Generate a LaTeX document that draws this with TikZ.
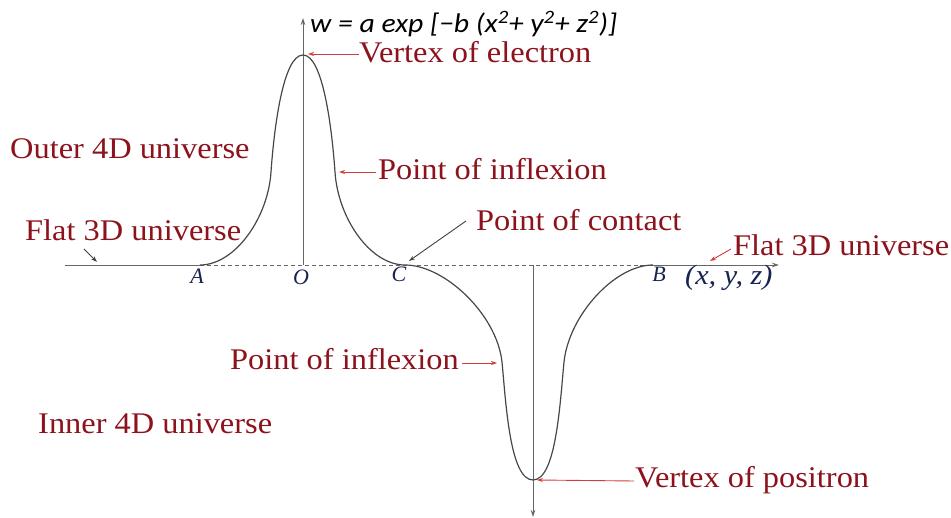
\documentclass[tikz,border=0pt]{standalone}
\usepackage{fontspec}
\setmainfont{Liberation Serif}
\newfontfamily\calib{Carlito}
\usetikzlibrary{arrows.meta}
\definecolor{lab}{RGB}{140,18,28}
\definecolor{arr}{RGB}{210,60,60}
\definecolor{pt}{RGB}{25,35,80}
\tikzset{
  lbl/.style={anchor=base west,inner sep=0pt,text=lab,font=\fontsize{30}{34}\selectfont,xscale=1.08},
  ptl/.style={anchor=base,inner sep=0pt,text=pt,font=\fontsize{22}{24}\selectfont\itshape},
  axis/.style={draw=black!60,line width=0.9pt},
  curve/.style={draw=black!72,line width=1.2pt},
  rarr/.style={draw=arr,line width=0.9pt,-{Stealth[length=6pt,width=4pt]}},
  barr/.style={draw=black!75,line width=0.9pt,-{Stealth[length=6pt,width=4pt]}},
  tip/.style={-{Stealth[length=7pt,width=4.5pt]}}
}
\begin{document}
\begin{tikzpicture}[x=1pt,y=-1pt]
\useasboundingbox (0,0) rectangle (951,518);
% key points
\coordinate (L) at (65,265);
\coordinate (A) at (200,265);
\coordinate (O) at (303,265);
\coordinate (C) at (405,265);
\coordinate (P) at (533,265);
\coordinate (B) at (653,265);
\coordinate (R) at (640,265);
\coordinate (X) at (779,265);
\coordinate (Wtop) at (303,18);
\coordinate (Wbot) at (533,517);
\coordinate (Ve) at (303,55);
\coordinate (Vp) at (533,480);
\coordinate (Ie1) at (271,172);
\coordinate (Ie2) at (335,172);
\coordinate (Ip1) at (502,362);
\coordinate (Ip2) at (564,362);
% axes
\draw[axis] (L) -- (A);
\draw[axis,dashed,dash pattern=on 4pt off 3pt] (A) -- (R);
\draw[axis,tip] (R) -- (X);
\draw[axis,tip] (O) -- (Wtop);
\draw[axis,tip] (P) -- (Wbot);
% curve
\draw[curve] (A) .. controls (235,265) and (268,218) .. (Ie1)
  .. controls (274,129) and (283,55) .. (Ve)
  .. controls (323,55) and (332,129) .. (Ie2)
  .. controls (338,218) and (370,265) .. (C)
  .. controls (445,265) and (497,315) .. (Ip1)
  .. controls (506,404) and (510,480) .. (Vp)
  .. controls (556,480) and (560,404) .. (Ip2)
  .. controls (569,315) and (615,265) .. (B);
% point labels
\node[ptl] (lA) at (197,284) {A};
\node[ptl] (lO) at (301,285) {O};
\node[ptl] (lC) at (399,282) {C};
\node[ptl] (lB) at (659,282) {B};
\node[ptl,anchor=base west,font=\fontsize{28}{30}\selectfont\itshape,xscale=1.08] (lxyz) at (685,285) {(x, y, z)};
% formula
\node[anchor=base west,inner sep=0pt,font=\calib\itshape\fontsize{27}{30}\selectfont,xscale=1.1] (f) at (310,33) {w = a exp [\textminus b (x\textsuperscript{2}+ y\textsuperscript{2}+ z\textsuperscript{2})]};
% labels
\node[lbl] (ve) at (359,63) {Vertex of electron};
\node[lbl] (outer) at (10,159) {Outer 4D universe};
\node[lbl] (pi1) at (378,180) {Point of inflexion};
\node[lbl] (fl) at (25,241) {Flat 3D universe};
\node[lbl] (pc) at (476,231) {Point of contact};
\node[lbl] (fr) at (733,256) {Flat 3D universe};
\node[lbl] (pi2) at (230,370) {Point of inflexion};
\node[lbl] (inner) at (38,434) {Inner 4D universe};
\node[lbl] (vp) at (635,488) {Vertex of positron};
% connectors
\coordinate (flt) at (97,262);
\coordinate (frt) at (710,261);
\coordinate (pct) at (409,261);
\draw[rarr] (ve.west |- 0,54) -- (308,54);
\draw[rarr] ([xshift=-2pt]pi1.west |- 0,172) -- (339,172);
\draw[rarr] ([xshift=3pt]pi2.east |- 0,363) -- (497,363);
\draw[rarr] ([xshift=-1pt]vp.west |- 0,481) -- (537,480);
\draw[rarr] ([xshift=-2pt]fr.west |- 0,249) -- (frt);
\draw[barr] (84,249) -- (flt);
\draw[barr] ([xshift=-10pt]pc.west |- 0,221) -- (pct);
\end{tikzpicture}
\end{document}
